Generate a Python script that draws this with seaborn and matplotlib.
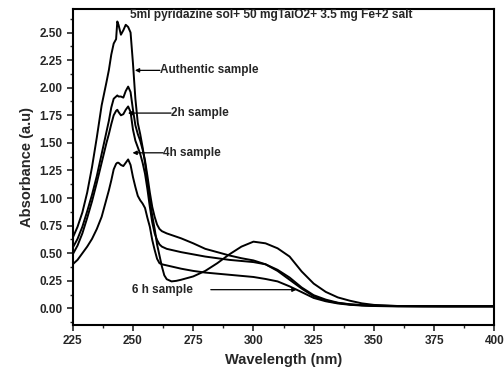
import numpy as np
import pandas as pd
import matplotlib
matplotlib.use("Agg")
import matplotlib.pyplot as plt
import seaborn as sns
from matplotlib.ticker import MultipleLocator

wavelength = [225, 227, 229, 231, 233, 235, 237, 239, 240, 241, 242, 243, 243.5, 244,
              245, 246, 247, 248, 249, 250, 251, 252, 253, 254, 255, 256, 257, 258,
              259, 260, 261, 262, 263, 264, 266, 268, 270, 275, 280, 285, 290, 295,
              300, 305, 310, 315, 320, 325, 330, 335, 340, 345, 350, 360, 370, 380,
              390, 400]

authentic = [0.64, 0.74, 0.87, 1.05, 1.28, 1.55, 1.84, 2.05, 2.16, 2.30, 2.40, 2.44, 2.60, 2.57,
             2.48, 2.52, 2.57, 2.55, 2.50, 2.22, 1.90, 1.68, 1.58, 1.46, 1.32, 1.15, 0.98, 0.84,
             0.72, 0.58, 0.48, 0.38, 0.30, 0.265, 0.245, 0.25, 0.26, 0.29, 0.34, 0.41, 0.49, 0.56,
             0.605, 0.59, 0.545, 0.47, 0.335, 0.225, 0.15, 0.10, 0.07, 0.046, 0.032, 0.022, 0.02, 0.019,
             0.019, 0.019]

sample_2h = [0.55, 0.63, 0.74, 0.88, 1.03, 1.20, 1.40, 1.60, 1.70, 1.82, 1.90, 1.92, 1.93, 1.92,
             1.92, 1.91, 1.97, 2.01, 1.96, 1.80, 1.66, 1.58, 1.52, 1.44, 1.34, 1.20, 1.05, 0.92,
             0.83, 0.76, 0.72, 0.70, 0.69, 0.68, 0.665, 0.65, 0.635, 0.59, 0.54, 0.51, 0.48, 0.455,
             0.435, 0.40, 0.35, 0.28, 0.19, 0.12, 0.08, 0.052, 0.038, 0.03, 0.025, 0.022, 0.021, 0.02,
             0.02, 0.02]

sample_4h = [0.49, 0.57, 0.68, 0.82, 0.97, 1.14, 1.32, 1.50, 1.58, 1.67, 1.75, 1.79, 1.80, 1.78,
             1.75, 1.76, 1.80, 1.83, 1.78, 1.62, 1.52, 1.46, 1.40, 1.32, 1.22, 1.08, 0.92, 0.78,
             0.68, 0.62, 0.58, 0.56, 0.55, 0.54, 0.53, 0.52, 0.51, 0.49, 0.47, 0.455, 0.44, 0.43,
             0.42, 0.40, 0.34, 0.26, 0.18, 0.11, 0.07, 0.05, 0.036, 0.029, 0.025, 0.021, 0.02, 0.02,
             0.02, 0.02]

sample_6h = [0.40, 0.44, 0.50, 0.56, 0.63, 0.72, 0.83, 0.99, 1.07, 1.16, 1.26, 1.31, 1.32, 1.32,
             1.30, 1.29, 1.32, 1.35, 1.30, 1.19, 1.10, 1.02, 0.98, 0.95, 0.91, 0.82, 0.74, 0.62,
             0.53, 0.45, 0.41, 0.40, 0.395, 0.39, 0.38, 0.37, 0.36, 0.34, 0.325, 0.315, 0.305, 0.295,
             0.285, 0.267, 0.245, 0.20, 0.148, 0.095, 0.065, 0.045, 0.033, 0.026, 0.022, 0.018, 0.018, 0.018,
             0.018, 0.018]

series = {"Authentic sample": authentic, "2h sample": sample_2h,
          "4h sample": sample_4h, "6 h sample": sample_6h}

x_ticks = [225, 250, 275, 300, 325, 350, 375, 400]
y_ticks = [0.00, 0.25, 0.50, 0.75, 1.00, 1.25, 1.50, 1.75, 2.00, 2.25, 2.50]

title = "5ml pyridazine sol+ 50 mgTaiO2+ 3.5 mg Fe+2 salt"

sns.set_style("ticks")
plt.rcParams['font.family'] = ['Liberation Sans', 'DejaVu Sans']
plt.rcParams['font.weight'] = 'bold'

fig = plt.figure(figsize=(5.04, 3.73), dpi=100)
ax = fig.add_axes([0.1443, 0.1287, 0.8367, 0.8463])

rows = []
for name, vals in series.items():
    for w, v in zip(wavelength, vals):
        rows.append({"wl": w, "abs": v, "sample": name})
df = pd.DataFrame(rows)

for name in series:
    sub = df[df["sample"] == name]
    sns.lineplot(data=sub, x="wl", y="abs", color="black", lw=1.4, ax=ax,
                 sort=False, legend=False)

ax.set_xlim(225, 400)
ax.set_ylim(-0.15, 2.71)
ax.set_xticks(x_ticks)
ax.set_xticklabels([str(t) for t in x_ticks], fontsize=8.5, fontweight='bold')
ax.set_yticks(y_ticks)
ax.set_yticklabels([f"{t:.2f}" for t in y_ticks], fontsize=8.5, fontweight='bold')
ax.xaxis.set_minor_locator(MultipleLocator(12.5))
ax.yaxis.set_minor_locator(MultipleLocator(0.125))
ax.tick_params(which='major', direction='out', length=4, width=1.2)
ax.tick_params(which='minor', direction='out', length=2.5, width=1.0)
ax.tick_params(top=False, right=False, which='both')
for s in ax.spines.values():
    s.set_visible(True)
    s.set_linewidth(1.5)
    s.set_color('black')

ax.set_xlabel("Wavelength (nm)", fontsize=10.5, fontweight='bold', labelpad=4)
ax.set_ylabel("Absorbance (a.u)", fontsize=10.5, fontweight='bold', labelpad=4)

ax.text(248.8, 2.655, title, fontsize=8.6, fontweight='bold', va='center', ha='left')

arrow = dict(arrowstyle='-|>', color='black', lw=0.9, mutation_scale=6, shrinkA=0, shrinkB=0)
labels = [("Authentic sample", 261.2, 250.8, 2.157),
          ("2h sample", 265.8, 247.9, 1.77),
          ("4h sample", 262.4, 249.8, 1.41)]
for text, tx, hx, y in labels:
    ax.annotate('', xy=(hx, y), xytext=(tx, y), arrowprops=arrow)
    ax.text(tx, y, text, fontsize=8.5, fontweight='bold', va='center', ha='left')

ax.text(249.6, 0.17, "6 h sample", fontsize=8.5, fontweight='bold', va='center', ha='left')
ax.annotate('', xy=(317.9, 0.17), xytext=(282.3, 0.17), arrowprops=arrow)

fig.savefig("out.png", dpi=100)
